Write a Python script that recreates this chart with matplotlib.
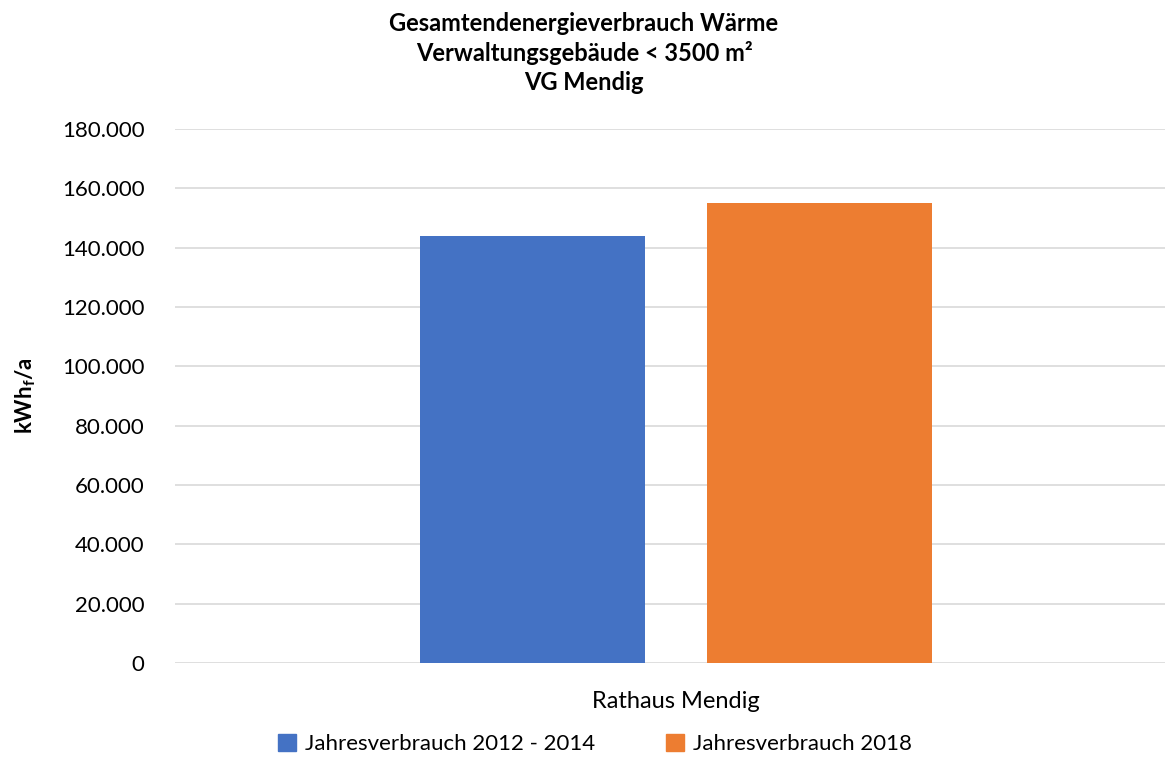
import numpy as np
import matplotlib
matplotlib.use('Agg')
import matplotlib.pyplot as plt
from matplotlib.ticker import FuncFormatter
from matplotlib.patches import Patch

### Data
category = ['Rathaus Mendig']
series = ['Jahresverbrauch 2012 - 2014', 'Jahresverbrauch 2018']
values = [143800, 155000]
colors = ['#4472c4', '#ed7d31']
yticks = np.arange(0, 180001, 20000)

plt.rcParams['font.family'] = ['Lato', 'DejaVu Sans']

fig = plt.figure(figsize=(11.68, 7.58), dpi=100)
ax = fig.add_axes([175/1168, 1-663/758, 990/1168, (663-129)/758])

offsets = [-0.145, 0.145]
for i in range(len(series)):
    ax.bar(offsets[i], values[i], width=0.227, color=colors[i], zorder=3)

ax.set_xlim(-0.506, 0.494)
ax.set_ylim(0, 180000)
ax.set_yticks(yticks)
ax.yaxis.set_major_formatter(FuncFormatter(lambda v, p: f'{int(v):,}'.replace(',', '.')))
ax.set_xticks([0])
ax.set_xticklabels(category)
ax.grid(axis='y', color='#d9d9d9', linewidth=1.2, zorder=0)
for s in ax.spines.values():
    s.set_visible(False)
ax.tick_params(axis='y', length=0, labelsize=16, colors='#000000', pad=22)
ax.tick_params(axis='x', length=0, labelsize=17, colors='#000000', pad=20)

ax.set_ylabel(r'kWh$_\mathregular{f}$/a', fontsize=16, fontweight='bold')
ax.yaxis.set_label_coords(-0.138, 0.5)

fig.text(0.5, 1-53/758, 'Gesamtendenergieverbrauch Wärme\nVerwaltungsgebäude < 3500 m²\nVG Mendig',
         ha='center', va='center', fontsize=17, fontweight='bold', linespacing=1.3)

handles = [Patch(color=colors[i], label=series[i]) for i in range(len(series))]
fig.legend(handles=handles, loc='center', bbox_to_anchor=(595/1168, 1-744/758), ncol=2,
           frameon=False, fontsize=16, handlelength=0.8, handleheight=0.8,
           handletextpad=0.4, columnspacing=3.2)

plt.savefig('out.png', dpi=100)
